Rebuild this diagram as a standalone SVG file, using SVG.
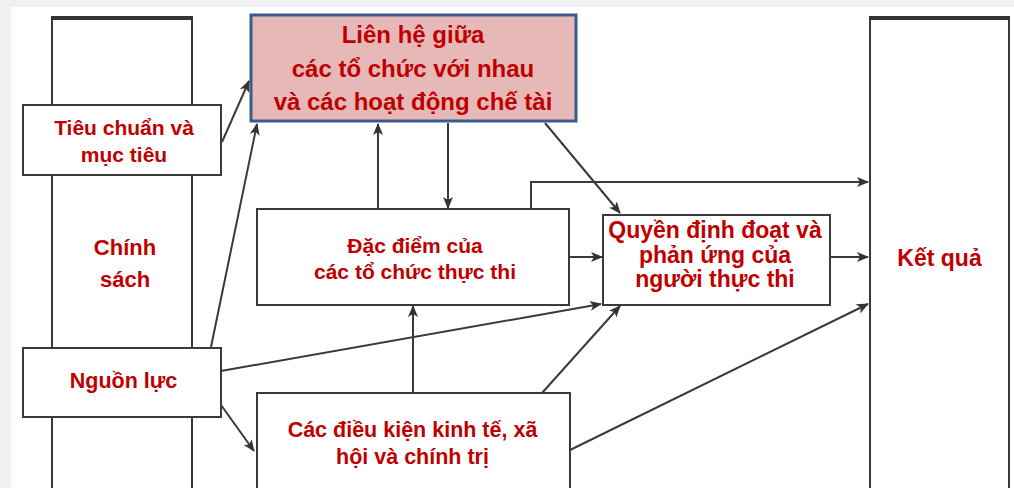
<svg xmlns="http://www.w3.org/2000/svg" width="1014" height="488" viewBox="0 0 1014 488">
<style>
  .box{fill:#ffffff;stroke:#3a3a3a;stroke-width:2}
  .col{fill:#ffffff;stroke:#3a3a3a;stroke-width:2}
  .colTop{stroke:#333;stroke-width:4}
  .lbl{font-family:"Liberation Sans",Arial,sans-serif;font-weight:bold;fill:#c00000;text-anchor:middle}
  .con{fill:none;stroke:#3a3a3a;stroke-width:2}
</style>
<defs>
  <marker id="ah" markerUnits="userSpaceOnUse" markerWidth="12" markerHeight="10" refX="11" refY="5" orient="auto">
    <path d="M0,0 L12,5 L0,10 L3,5 z" fill="#333"/>
  </marker>
</defs>
<rect x="0" y="0" width="1014" height="488" fill="#f0f0f0"/>
<rect x="11" y="7" width="1003" height="481" fill="#ffffff"/>

<g id="chinh-sach">
  <path class="col" d="M52,495 L52,17 L192,17 L192,495"/>
  <line class="colTop" x1="51" y1="18" x2="193" y2="18"/>
  <text class="lbl" font-size="22" x="125" y="255">Chính</text>
  <text class="lbl" font-size="22" x="125" y="287">sách</text>
</g>

<g id="ket-qua">
  <path class="col" d="M870,495 L870,17 L1009,17 L1009,495"/>
  <line class="colTop" x1="869" y1="18" x2="1010" y2="18"/>
  <text class="lbl" font-size="23" x="939.5" y="266">Kết quả</text>
</g>

<g id="tieu-chuan">
  <rect class="box" x="23" y="105" width="198" height="70"/>
  <text class="lbl" font-size="21" x="124" y="135">Tiêu chuẩn và</text>
  <text class="lbl" font-size="21" x="124" y="162">mục tiêu</text>
</g>

<g id="nguon-luc">
  <rect class="box" x="23" y="348" width="198" height="69"/>
  <text class="lbl" font-size="21.5" x="123.5" y="388">Nguồn lực</text>
</g>

<g id="lien-he">
  <rect x="251" y="15" width="325" height="106" fill="#e6b8b7" stroke="#3b5b8c" stroke-width="3"/>
  <text class="lbl" font-size="24" x="413" y="43">Liên hệ giữa</text>
  <text class="lbl" font-size="24" x="413" y="77">các tổ chức với nhau</text>
  <text class="lbl" font-size="24" x="413" y="110">và các hoạt động chế tài</text>
</g>

<g id="dac-diem">
  <rect class="box" x="257" y="209" width="312" height="96"/>
  <text class="lbl" font-size="21" x="415" y="253">Đặc điểm của</text>
  <text class="lbl" font-size="21" x="415" y="279">các tổ chức thực thi</text>
</g>

<g id="quyen">
  <rect class="box" x="603" y="215" width="227" height="90"/>
  <text class="lbl" font-size="23" x="715" y="238">Quyền định đoạt và</text>
  <text class="lbl" font-size="23" x="715" y="263">phản ứng của</text>
  <text class="lbl" font-size="23" x="715" y="287">người thực thi</text>
</g>

<g id="dieu-kien">
  <rect class="box" x="257" y="393" width="313" height="100"/>
  <text class="lbl" font-size="21.5" x="412.5" y="437">Các điều kiện kinh tế, xã</text>
  <text class="lbl" font-size="21.5" x="412.5" y="464">hội và chính trị</text>
</g>

<g id="connectors">
  <line class="con" x1="222" y1="142" x2="249" y2="81" marker-end="url(#ah)"/>
  <line class="con" x1="211" y1="347" x2="257" y2="124" marker-end="url(#ah)"/>
  <line class="con" x1="378" y1="209" x2="378" y2="124" marker-end="url(#ah)"/>
  <line class="con" x1="448" y1="123" x2="448" y2="208" marker-end="url(#ah)"/>
  <line class="con" x1="545" y1="123" x2="620" y2="213" marker-end="url(#ah)"/>
  <path class="con" d="M531,209 L531,182 L868,182" marker-end="url(#ah)"/>
  <line class="con" x1="569" y1="257" x2="602" y2="257" marker-end="url(#ah)"/>
  <line class="con" x1="830" y1="257" x2="868" y2="257" marker-end="url(#ah)"/>
  <line class="con" x1="221" y1="371" x2="601" y2="304" marker-end="url(#ah)"/>
  <line class="con" x1="221" y1="405" x2="254" y2="451" marker-end="url(#ah)"/>
  <line class="con" x1="413" y1="393" x2="413" y2="306" marker-end="url(#ah)"/>
  <line class="con" x1="542" y1="393" x2="620" y2="306" marker-end="url(#ah)"/>
  <line class="con" x1="570" y1="450" x2="868" y2="304" marker-end="url(#ah)"/>
</g>
</svg>
